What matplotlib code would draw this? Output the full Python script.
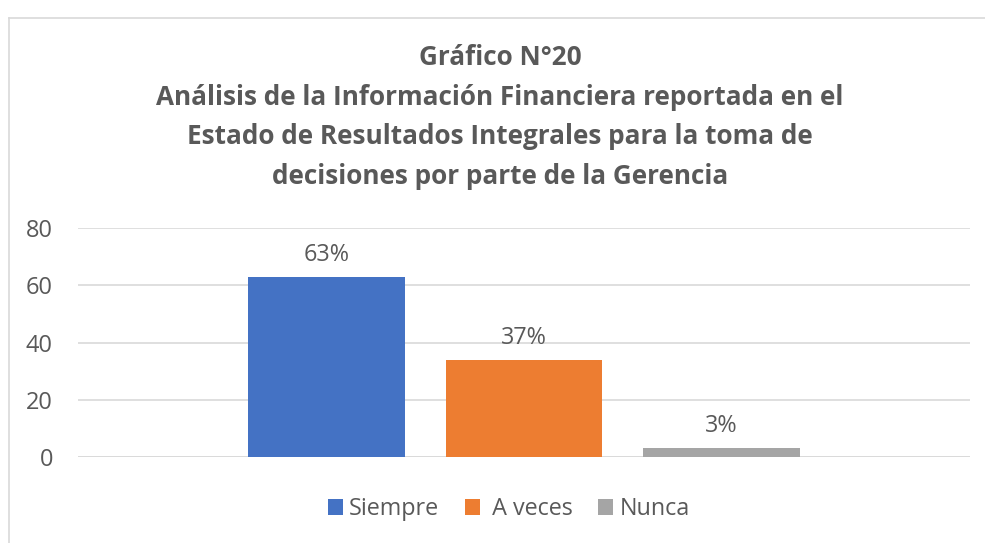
import matplotlib.pyplot as plt
from matplotlib.lines import Line2D
from matplotlib.patches import Patch

plt.rcParams['font.family'] = ['Open Sans', 'DejaVu Sans']

# Datos del gráfico
series = ["Siempre", " A veces", "Nunca"]
valores = [63, 34, 3]
etiquetas = ["63%", "37%", "3%"]
colores = ["#4472C4", "#ED7D31", "#A5A5A5"]
yticks = [0, 20, 40, 60, 80]
titulo = ("Gráfico N°20\n"
          "Análisis de la Información Financiera reportada en el\n"
          "Estado de Resultados Integrales para la toma de\n"
          "decisiones por parte de la Gerencia")

texto = "#595959"
gris = "#D9D9D9"

fig = plt.figure(figsize=(9.85, 5.43), dpi=100)
ax = fig.add_axes([78 / 985, 1 - 457 / 543, 892 / 985, 229 / 543])

# una sola categoría con tres series
ancho = 0.175
paso = 0.2214
for i, (s, v, lab, c) in enumerate(zip(series, valores, etiquetas, colores)):
    x = (i - 1) * paso
    ax.bar(x, v, width=ancho, color=c, label=s, zorder=3)
    ax.text(x, v + 3.5, lab, ha="center", va="bottom", fontsize=16.8, color=texto)

ax.set_xlim(-0.5, 0.5)
ax.set_ylim(0, 80)
ax.set_yticks(yticks)
ax.set_xticks([])
ax.grid(axis="y", color=gris, linewidth=1.2, zorder=0)
for sp in ax.spines.values():
    sp.set_visible(False)
ax.axhline(0, color=gris, linewidth=1.2, zorder=2)
ax.tick_params(axis="y", length=0, labelsize=17, labelcolor=texto, pad=18)

fig.text(500 / 985, 1 - 117 / 543, titulo, ha="center", va="center", fontsize=18.8,
         fontweight="bold", color=texto, linespacing=1.60)

# leyenda
handles = [Patch(facecolor=c, edgecolor="none") for c in colores]
fig.legend(handles, series, loc="center", bbox_to_anchor=(509 / 985, 1 - 509 / 543),
           ncol=3, frameon=False, fontsize=16.8, labelcolor=texto,
           handlelength=0.64, handleheight=0.64, handletextpad=0.26, columnspacing=1.1)

# borde del área del gráfico
fig.add_artist(Line2D([9 / 985, 9 / 985], [0, 1 - 18 / 543], color=gris, linewidth=1.2))
fig.add_artist(Line2D([9 / 985, 1], [1 - 18 / 543, 1 - 18 / 543], color=gris, linewidth=1.2))

fig.savefig("out.png", dpi=100, facecolor="white")
